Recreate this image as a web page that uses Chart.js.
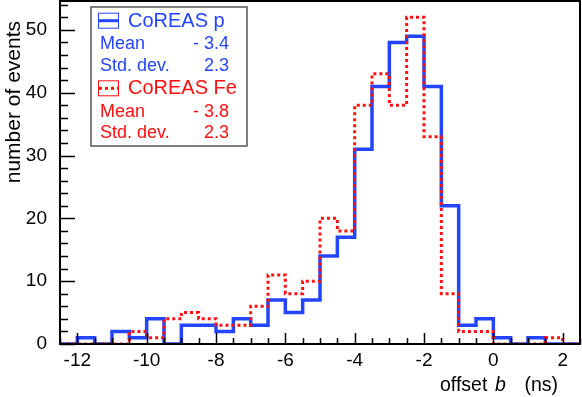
<!DOCTYPE html>
<html lang="en">
<head>
<meta charset="UTF-8">
<title>Offset b distribution</title>
<style>
    body { margin: 0; background: #fff; }
    #wrap { position: relative; width: 582px; height: 397px; }
</style>
</head>
<body>
<div id="wrap">
    <canvas id="myChart" width="582" height="397"></canvas>
</div>

<script src="https://cdn.jsdelivr.net/npm/chart.js@4.4.1/dist/chart.umd.min.js"></script>
<script>
    // bin edges of the histogram (ns)
    const binEdges = [-12.5, -12, -11.5, -11, -10.5, -10, -9.5, -9, -8.5, -8, -7.5, -7, -6.5, -6, -5.5,
                      -5, -4.5, -4, -3.5, -3, -2.5, -2, -1.5, -1, -0.5, 0, 0.5, 1, 1.5, 2, 2.5];
    // counts per bin
    const countsP  = [0, 1, 0, 2, 1, 4, 0, 3, 3, 2, 4, 3, 7, 5, 7, 14, 17, 31, 41, 48, 49, 41, 22, 3, 4, 1, 0, 1, 0, 0];
    const countsFe = [0, 0, 0, 0, 2, 1, 4, 5, 4, 3, 3, 6, 11, 8, 10, 20, 18, 38, 43, 38, 52, 33, 8, 2, 2, 0, 0, 0, 1, 0];

    const xTicks = [-12, -10, -8, -6, -4, -2, 0, 2];
    const yTicks = [0, 10, 20, 30, 40, 50];

    const legendNames = ['CoREAS p', 'CoREAS Fe'];
    const legendMeans = ['- 3.4', '- 3.8'];
    const legendStds  = ['2.3', '2.3'];

    const BLUE = '#2445ff';
    const RED = '#ff1010';
    const FONT = '"Liberation Sans", Arial, sans-serif';

    // step outline: one point at each left edge, plus the last right edge
    function steps(counts) {
        const pts = counts.map((c, i) => ({ x: binEdges[i], y: c }));
        pts.push({ x: binEdges[binEdges.length - 1], y: counts[counts.length - 1] });
        return pts;
    }

    function noPad(s) {
        s.paddingTop = 0; s.paddingBottom = 0;
        s.paddingLeft = 0; s.paddingRight = 0;
    }

    const framePlugin = {
        id: 'frame',
        afterDraw(chart) {
            const ctx = chart.ctx;
            const a = chart.chartArea;
            const xs = chart.scales.x, ys = chart.scales.y;
            ctx.save();
            ctx.strokeStyle = '#000';
            ctx.lineWidth = 1.5;

            // x ticks, pointing inside
            ctx.beginPath();
            for (let v = xs.min; v <= xs.max + 1e-9; v += 0.5) {
                const px = Math.round(xs.getPixelForValue(v)) + 0.5;
                const len = xTicks.includes(v) ? 11 : 6;
                ctx.moveTo(px, a.bottom);
                ctx.lineTo(px, a.bottom - len);
            }
            // y ticks
            for (let v = 0; v <= ys.max; v += 2) {
                const py = Math.round(ys.getPixelForValue(v)) + 0.5;
                const len = yTicks.includes(v) ? 15 : 8;
                ctx.moveTo(a.left, py);
                ctx.lineTo(a.left + len, py);
            }
            ctx.stroke();

            // frame
            ctx.lineWidth = 2;
            ctx.strokeRect(a.left, a.top, a.right - a.left, a.bottom - a.top);

            // legend box
            ctx.fillStyle = '#fff';
            ctx.fillRect(91, 7, 156, 139);
            ctx.strokeStyle = '#555';
            ctx.lineWidth = 1.5;
            ctx.strokeRect(91, 7, 156, 139);

            const colors = [BLUE, RED];
            const rowTop = [26.7, 94.3];
            for (let k = 0; k < 2; k++) {
                const base = rowTop[k];
                ctx.strokeStyle = colors[k];
                ctx.fillStyle = colors[k];
                // icon
                ctx.lineWidth = 1;
                ctx.setLineDash([]);
                ctx.strokeRect(98.5, base - 13.5, 20, 15);
                ctx.beginPath();
                ctx.lineWidth = 3;
                if (k === 1) ctx.setLineDash([3, 3]);
                ctx.moveTo(99, base - 6);
                ctx.lineTo(118, base - 6);
                ctx.stroke();
                ctx.setLineDash([]);

                ctx.textBaseline = 'alphabetic';
                ctx.textAlign = 'left';
                ctx.font = '20px ' + FONT;
                ctx.fillText(legendNames[k], 128, base);
                ctx.font = '18px ' + FONT;
                ctx.fillText('Mean', 100, base + 22.5);
                ctx.fillText('Std. dev.', 100, base + 44);
                ctx.textAlign = 'right';
                ctx.fillText(legendMeans[k], 229, base + 22.5);
                ctx.fillText(legendStds[k], 229, base + 44);
            }

            // axis titles
            ctx.fillStyle = '#000';
            ctx.textAlign = 'left';
            ctx.textBaseline = 'alphabetic';
            ctx.font = '19.5px ' + FONT;
            ctx.fillText('offset', 440, 391);
            ctx.font = 'italic 19.5px ' + FONT;
            ctx.fillText('b', 495, 391);
            ctx.font = '19.5px ' + FONT;
            ctx.textAlign = 'right';
            ctx.fillText('(ns)', 558, 391);

            ctx.translate(19.5, 21);
            ctx.rotate(-Math.PI / 2);
            ctx.font = '21px ' + FONT;
            ctx.textAlign = 'right';
            ctx.fillText('number of events', 0, 0);
            ctx.restore();
        }
    };

    const ctx = document.getElementById('myChart').getContext('2d');
    const myChart = new Chart(ctx, {
        type: 'line',
        data: {
            datasets: [{
                label: legendNames[1],
                data: steps(countsFe),
                borderColor: RED,
                borderWidth: 3,
                borderDash: [3, 3],
                stepped: true,
                pointRadius: 0,
                fill: false,
                order: 0
            }, {
                label: legendNames[0],
                data: steps(countsP),
                borderColor: BLUE,
                borderWidth: 3.5,
                stepped: true,
                pointRadius: 0,
                fill: false,
                order: 1
            }]
        },
        options: {
            responsive: false,
            animation: false,
            devicePixelRatio: 1,
            layout: { padding: { top: 1, right: 2, left: 0, bottom: 0 } },
            scales: {
                x: {
                    type: 'linear',
                    min: binEdges[0],
                    max: binEdges[binEdges.length - 1],
                    grid: { display: false },
                    border: { display: false },
                    afterBuildTicks: s => { s.ticks = xTicks.map(v => ({ value: v })); },
                    afterFit: s => { s.height = 53; noPad(s); },
                    ticks: {
                        padding: -3,
                        maxRotation: 0,
                        color: '#000',
                        font: { family: FONT, size: 19 }
                    }
                },
                y: {
                    min: 0,
                    max: 54.6,
                    grid: { display: false },
                    border: { display: false },
                    afterBuildTicks: s => { s.ticks = yTicks.map(v => ({ value: v })); },
                    afterFit: s => { s.width = 60; noPad(s); },
                    ticks: {
                        padding: 5,
                        color: '#000',
                        font: { family: FONT, size: 19 }
                    }
                }
            },
            plugins: {
                legend: { display: false },
                tooltip: { enabled: false }
            }
        },
        plugins: [framePlugin]
    });
</script>
</body>
</html>
